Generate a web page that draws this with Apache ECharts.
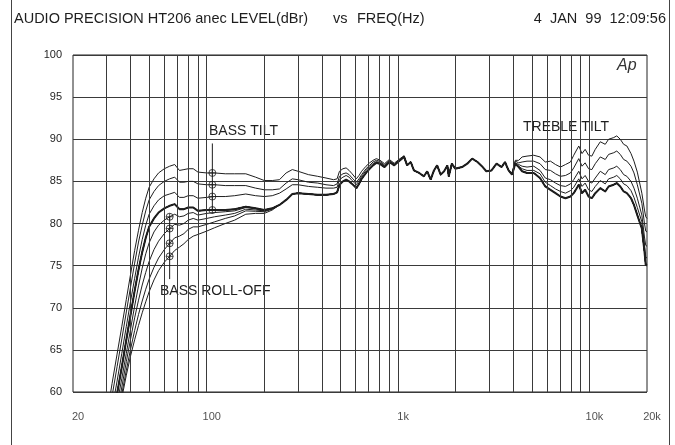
<!DOCTYPE html>
<html><head><meta charset="utf-8">
<script src="https://cdn.jsdelivr.net/npm/echarts@6/dist/echarts.min.js"></script>
<style>html,body{margin:0;padding:0;background:#fff}#c{width:675px;height:445px}</style>
</head><body><div id="c"></div>
<script>
// ---------- data ----------
const freqHz = [28,30,32,34,36,38,40,42,44,46,48,50,53,56,60,64,68,72,76,80,85,90,100,110,125,140,160,180,200,220,240,260,280,300,340,380,420,460,
  480,494,515,535,555,575,605,625,645,680,710,740,770,800,850,900,955,1010,1075,1115,
  1165,1210,1290,1365,1420,1480,1540,1600,1670,1740,1810,1840,1910,1990,2160,2300,2440,2600,2770,2890,3080,3270,3480,3620,
  3780,3940,4100,4270,4450,4720,5120,5520,5880,6260,6650,7060,7500,7960,8280,8800,9150,9500,9900,10300,10730,11400,12100,12600,13400,13900,14500,15100,15700,16500,17100,17800,18800,19400,19700,20000];

// reference (thick) curve, dBr
const levelRef = [48.5,52.5,56.5,59.8,63,66.2,69.2,72,74.5,76.6,78.3,79.6,80.6,81.3,81.8,82.1,82.3,81.7,81.7,81.9,81.9,81.5,81.6,81.6,81.6,81.7,82.0,81.8,81.6,81.8,82.2,82.8,83.5,83.6,83.5,83.4,83.4,83.5,
  83.7,84.6,85.0,85.2,85.0,84.7,84.2,84.7,85.3,86.0,86.5,86.9,87.2,87.1,86.7,87.3,86.9,87.4,87.9,86.9,
  87.3,86.3,86.0,85.6,86.2,85.2,86.3,86.9,85.8,86.2,86.9,85.6,87.1,86.5,86.7,87.1,87.7,87.3,86.7,86.2,86.3,87.1,86.7,87.3,
  86.3,85.8,87.1,86.7,86.2,86.0,86.0,85.4,84.4,84.0,83.6,83.2,83.0,83.2,83.6,84.6,83.6,84.0,83.2,83.0,83.6,84.2,83.8,84.4,84.6,84.8,84.4,83.8,83.6,83.0,82.2,81.0,79.4,76.7,75.1,75.0];

// bass tilt curves (first points of freqHz, rest follows the reference)
const bassTilt3 = [53,57,61,64.5,67.8,71,74,76.8,79.2,81.3,83,84.3,85.3,86,86.5,86.8,87.0,86.3,86.4,86.5,86.5,86.1,86.0,86.0,85.9,85.9,85.9,85.5,85.1,85.1,85.2,86.0,86.4,86.2,85.8,85.6,85.4,85.2,
  85.3,86.2,86.5,86.6,86.3,85.9,85.3,85.7,86.2,86.8,87.2,87.5,87.7,87.55,87.1,87.6,87.15,87.6,88.05,87.0];
const bassTilt2 = [51.5,55.5,59.5,63,66.3,69.5,72.5,75.3,77.8,79.8,81.5,82.8,83.8,84.5,85.0,85.3,85.5,84.9,84.9,85.0,85.0,84.7,84.6,84.6,84.5,84.5,84.5,84.2,84.0,84.0,84.1,84.8,85.3,85.2,84.9,84.8,84.6,84.5,
  84.7,85.6,85.9,86.0,85.8,85.4,84.9,85.3,85.8,86.5,86.9,87.3,87.5,87.4,86.95,87.5,87.05,87.5,88.0,86.95];
const bassTilt1 = [50,54,58,61.3,64.6,67.8,70.8,73.5,76,78.1,79.8,81.1,82.1,82.8,83.3,83.5,83.7,83.1,83.1,83.3,83.3,83.0,83.1,83.2,83.2,83.3,83.5,83.3,83.2,83.3,83.6,84.1,84.6,84.6,84.4,84.3,84.2,84.2,
  84.3,85.2,85.5,85.7,85.5,85.1,84.6,85.05,85.6,86.3,86.75,87.1,87.35,87.25,86.85,87.4,86.95,87.45,87.95,86.9];

// bass roll-off curves
const rollOff1 = [46.5,50.5,54.8,58.6,61.6,64.6,67.5,70.2,72.6,74.7,76.4,77.7,79,79.8,80.4,80.8,81.1,80.8,80.9,81.2,81.3,81.0,81.2,81.3,81.4,81.5,81.9,81.75,81.55,81.8];
const rollOff2 = [46,50,54,57.4,60.6,63.6,66.3,68.8,70.9,72.7,74.2,75.5,76.9,77.9,78.8,79.4,79.9,79.8,80.0,80.4,80.6,80.4,80.6,80.8,81.0,81.2,81.7,81.6,81.5,81.75];
const rollOff3 = [45.5,49.5,53.5,56.8,59.8,62.6,65.1,67.3,69.2,70.8,72.2,73.4,74.8,75.9,76.9,77.65,78.3,78.5,78.8,79.3,79.6,79.6,79.9,80.2,80.6,80.9,81.5,81.45,81.4,81.7];
const rollOff4 = [45,49,53,56.3,59.3,62.0,64.3,66.2,67.9,69.4,70.7,71.9,73.3,74.4,75.4,76.1,76.8,77.2,77.6,78.1,78.5,78.7,79.1,79.5,80.0,80.4,81.1,81.2,81.2,81.6];

// treble tilt curves (last points of freqHz, from 3780 Hz)
const trebleTilt4 = [86.3,86.0,87.5,87.5,87.9,88.0,88.1,87.9,87.3,87.4,87.0,86.7,87.0,87.3,88.1,89.2,88.3,88.8,88.1,88.0,88.8,89.7,89.4,90.0,90.2,90.4,90.0,89.4,89.2,88.3,87.4,86.1,83.6,81.6,80.8,80.6];
const trebleTilt3 = [86.3,85.9,87.4,87.2,87.3,87.4,87.4,87.1,86.4,86.3,85.9,85.6,85.7,86.0,86.6,87.7,86.8,87.2,86.5,86.4,87.1,87.9,87.6,88.2,88.4,88.6,88.2,87.6,87.4,86.8,86.0,84.6,82.4,80.0,79.1,79.0];
const trebleTilt2 = [86.3,85.9,87.2,87.0,86.8,86.7,86.8,86.3,85.4,85.2,84.8,84.5,84.4,84.7,85.2,86.2,85.3,85.7,85.0,84.8,85.4,86.2,85.8,86.4,86.6,86.8,86.4,85.8,85.6,85.0,84.2,83.0,81.0,78.4,77.4,77.3];
const trebleTilt1 = [86.3,85.8,87.1,86.8,86.5,86.3,86.3,85.9,84.9,84.5,84.1,83.8,83.6,83.9,84.3,85.3,84.4,84.8,84.0,83.8,84.4,85.1,84.7,85.3,85.5,85.7,85.3,84.7,84.5,83.9,83.1,81.9,80.2,77.5,76.0,75.9];

// annotation markers
const tiltMarkFreq = 107;
const tiltMarkLevels = [86.0, 84.6, 83.2, 81.6];
const tiltLeader = [89.5, 81.6];
const rollMarkFreq = 64;
const rollMarkLevels = [80.8, 79.4, 77.65, 76.1];
const rollLeader = [80.8, 73.4];

// axes
const gridFreqs = [30,40,50,60,70,80,90,100,200,300,400,500,600,700,800,900,1000,2000,3000,4000,5000,6000,7000,8000,9000,10000];
const xLabelFreqs = [20, 100, 1000, 10000, 20000];
const xLabelText = ['20', '100', '1k', '10k', '20k'];
const yMin = 60, yMax = 100, yStep = 5;

// ---------- build ----------
function headCurve(head) { return head.concat(levelRef.slice(head.length)); }
function tailCurve(tail) { return levelRef.slice(0, levelRef.length - tail.length).concat(tail); }
function pairs(vals) { return freqHz.map((f, i) => [f, vals[i]]); }

const INK = '#1e1e1e';
const FONT = 'Liberation Sans, Arial, Helvetica, sans-serif';
function curve(name, vals, w) {
  return { name, type: 'line', data: pairs(vals), showSymbol: false, symbol: 'none', clip: true,
    lineStyle: { color: INK, width: w }, silent: true, z: w > 1 ? 4 : 3 };
}
const markPath = 'path://M-10,0A10,10 0 1,0 10,0A10,10 0 1,0 -10,0ZM-10,0L10,0M0,-10L0,10';

const series = [
  { type: 'line', data: [[20, 60]], symbol: 'none', lineStyle: { opacity: 0 }, silent: true,
    markLine: { silent: true, symbol: ['none', 'none'], animation: false, label: { show: false },
      lineStyle: { color: '#3a3a3a', width: 1, type: 'solid' },
      data: gridFreqs.map(f => ({ xAxis: f })) } },
  curve('bt3', headCurve(bassTilt3), 1),
  curve('bt2', headCurve(bassTilt2), 1),
  curve('bt1', headCurve(bassTilt1), 1),
  curve('ro1', headCurve(rollOff1), 1),
  curve('ro2', headCurve(rollOff2), 1),
  curve('ro3', headCurve(rollOff3), 1),
  curve('ro4', headCurve(rollOff4), 1),
  curve('tt1', tailCurve(trebleTilt1), 1),
  curve('tt2', tailCurve(trebleTilt2), 1),
  curve('tt3', tailCurve(trebleTilt3), 1),
  curve('tt4', tailCurve(trebleTilt4), 1),
  curve('ref', levelRef, 2),
  { type: 'line', data: tiltLeader.map(v => [tiltMarkFreq, v]), symbol: 'none', silent: true, lineStyle: { color: INK, width: 1 }, z: 5 },
  { type: 'line', data: rollLeader.map(v => [rollMarkFreq, v]), symbol: 'none', silent: true, lineStyle: { color: INK, width: 1 }, z: 5 },
  { type: 'scatter', silent: true, symbol: markPath, symbolSize: 7, z: 6,
    itemStyle: { color: 'rgba(0,0,0,0)', borderColor: INK, borderWidth: 1 },
    data: tiltMarkLevels.map(v => [tiltMarkFreq, v]).concat(rollMarkLevels.map(v => [rollMarkFreq, v])) },
  { type: 'scatter', silent: true, symbolSize: 0, clip: false,
    data: xLabelFreqs.map(f => [f, yMin]),
    label: { show: true, position: 'bottom', distance: 19, offset: [5, 0], color: INK, fontSize: 11, fontFamily: FONT,
      formatter: p => xLabelText[p.dataIndex] } }
];

const txt = (x, y, s, opt) => ({ type: 'text', x, y, silent: true,
  style: Object.assign({ text: s, fill: INK, font: '14px ' + FONT, textVerticalAlign: 'middle' }, opt || {}) });
const TF = '14.5px ' + FONT;

const option = {
  animation: false,
  backgroundColor: '#fff',
  grid: { left: 73, right: 28, top: 55, bottom: 53, show: true, borderColor: '#222', borderWidth: 1, backgroundColor: 'transparent' },
  xAxis: { type: 'log', logBase: 10, min: 20, max: 20000,
    axisLine: { show: false }, axisTick: { show: false }, axisLabel: { show: false }, splitLine: { show: false } },
  yAxis: { type: 'value', min: yMin, max: yMax, interval: yStep,
    axisLine: { show: false }, axisTick: { show: false },
    axisLabel: { color: INK, fontSize: 11, fontFamily: FONT, margin: 11 },
    splitLine: { lineStyle: { color: '#3a3a3a', width: 1 } } },
  series,
  graphic: [
    { type: 'line', silent: true, shape: { x1: 11.5, y1: 0, x2: 11.5, y2: 445 }, style: { stroke: '#444', lineWidth: 1 } },
    { type: 'line', silent: true, shape: { x1: 669.5, y1: 0, x2: 669.5, y2: 445 }, style: { stroke: '#444', lineWidth: 1 } },
    txt(14, 19, 'AUDIO PRECISION HT206 anec LEVEL(dBr)', { font: TF }),
    txt(333, 19, 'vs', { font: TF }),
    txt(357, 19, 'FREQ(Hz)', { font: TF }),
    txt(666, 19, '4  JAN  99  12:09:56', { font: TF, textAlign: 'right' }),
    txt(209, 131, 'BASS TILT'),
    txt(160, 291, 'BASS ROLL-OFF'),
    txt(523, 127, 'TREBLE TILT'),
    txt(617, 66, 'Ap', { font: 'italic 16px ' + FONT, fill: '#333' })
  ]
};
const chart = echarts.init(document.getElementById('c'));
chart.setOption(option);
</script></body></html>
